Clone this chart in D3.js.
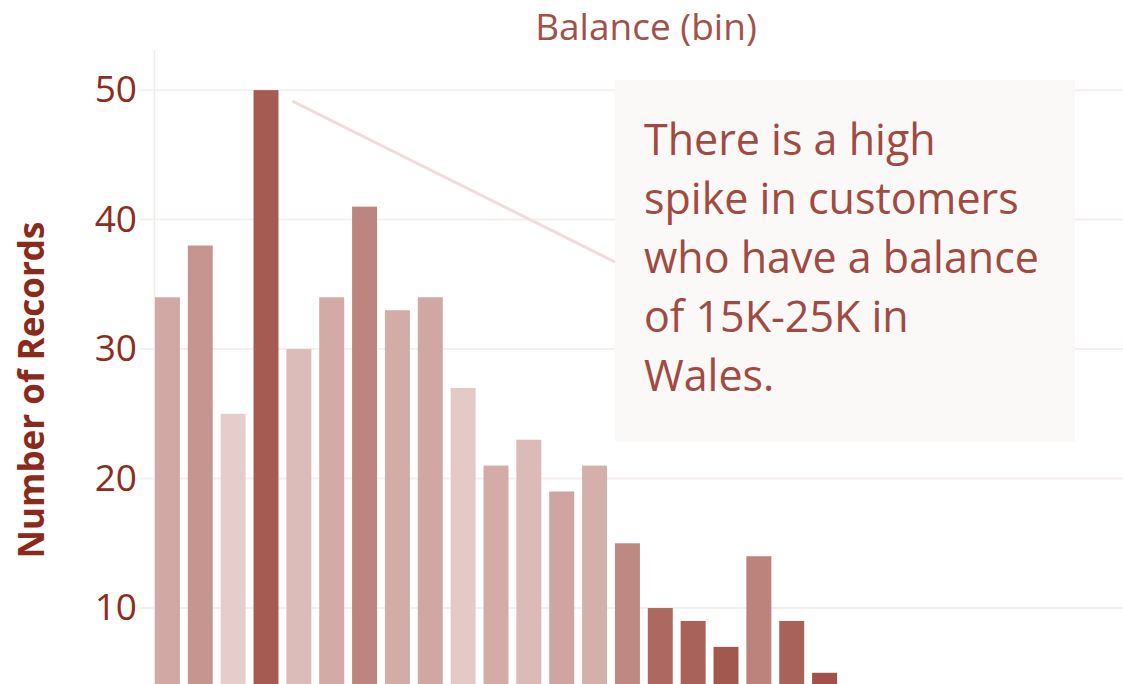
<!DOCTYPE html>
<html>
<head>
<meta charset="utf-8">
<script src="https://cdn.jsdelivr.net/npm/d3@7"></script>
<style>
  html, body { margin: 0; padding: 0; background: #fff; }
  svg { display: block; font-family: "Open Sans", sans-serif; }
</style>
</head>
<body>
<svg id="chart" width="1123" height="684"></svg>
<script>
// balance bins (5K wide), only the visible part of the histogram
const bins = ['0K', '5K', '10K', '15K', '20K', '25K', '30K', '35K', '40K', '45K', '50K',
  '55K', '60K', '65K', '70K', '75K', '80K', '85K', '90K', '95K', '100K'];
// Number of Records per bin
const records = [34, 38, 25, 50, 30, 34, 41, 33, 34, 27, 21, 23, 19, 21, 15, 10, 9, 7, 14, 9, 5];
// colour measure (normalised 0..1)
const shade = [0.34, 0.475, 0.075, 0.89, 0.2, 0.325, 0.59, 0.31, 0.35, 0.1, 0.31,
  0.21, 0.36, 0.29, 0.56, 0.79, 0.84, 0.91, 0.6, 0.84, 0.95];
const yTicks = [10, 20, 30, 40, 50];
const note = ['There is a high', 'spike in customers', 'who have a balance', 'of 15K-25K in', 'Wales.'];

const svg = d3.select('#chart');

const x = d3.scaleBand()
  .domain(bins)
  .range([151, 841])
  .paddingInner(0.24)
  .paddingOuter(0.12);

// zero line is below the visible area (picture is cropped)
const y = d3.scaleLinear()
  .domain([0, 53.1])
  .range([737.5, 50]);

const color = d3.scaleLinear()
  .domain([0, 1])
  .range(['#ecd8d6', '#9c4b42'])
  .interpolate(d3.interpolateRgb);

// gridlines
svg.append('g')
  .selectAll('line')
  .data(yTicks)
  .join('line')
  .attr('x1', 140).attr('x2', 1123)
  .attr('y1', d => y(d)).attr('y2', d => y(d))
  .attr('stroke', '#f6efee')
  .attr('stroke-width', 2);

// axis line
svg.append('line')
  .attr('x1', 154.5).attr('x2', 154.5)
  .attr('y1', 50).attr('y2', 684)
  .attr('stroke', '#f3e9e8')
  .attr('stroke-width', 1.5);

// y axis labels
const yAxis = svg.append('g')
  .attr('transform', 'translate(140,0)')
  .call(d3.axisLeft(y).tickValues(yTicks).tickSize(0).tickPadding(3));
yAxis.select('.domain').remove();
yAxis.selectAll('text')
  .attr('fill', '#8c2d20')
  .style('font-family', '"Open Sans", sans-serif')
  .style('font-size', '37px');

// bars
svg.append('g')
  .selectAll('rect')
  .data(records)
  .join('rect')
  .attr('x', (d, i) => x(bins[i]))
  .attr('width', x.bandwidth())
  .attr('y', d => y(d))
  .attr('height', d => y(0) - y(d))
  .attr('fill', (d, i) => color(shade[i]));

// annotation box
svg.append('rect')
  .attr('x', 615).attr('y', 80)
  .attr('width', 460).attr('height', 362)
  .attr('fill', '#fbf8f8');

// annotation line from the spike bar
const spike = bins[records.indexOf(d3.max(records))];
svg.append('line')
  .attr('x1', x(spike) + x.bandwidth() + 14)
  .attr('y1', y(d3.max(records)) + 11)
  .attr('x2', 615)
  .attr('y2', 262)
  .attr('stroke', '#efdcdb')
  .attr('stroke-width', 3);

svg.append('g')
  .selectAll('text')
  .data(note)
  .join('text')
  .attr('x', 644)
  .attr('y', (d, i) => 155 + i * 59)
  .attr('fill', '#a04a42')
  .style('font-size', '43px')
  .text(d => d);

// titles
svg.append('text')
  .attr('x', 646).attr('y', 40)
  .attr('text-anchor', 'middle')
  .attr('fill', '#a0524a')
  .style('font-size', '37px')
  .text('Balance (bin)');

svg.append('text')
  .attr('transform', 'translate(44,390) rotate(-90)')
  .attr('text-anchor', 'middle')
  .attr('fill', '#8a2a1a')
  .style('font-size', '35px')
  .style('font-weight', 'bold')
  .text('Number of Records');
</script>
</body>
</html>
